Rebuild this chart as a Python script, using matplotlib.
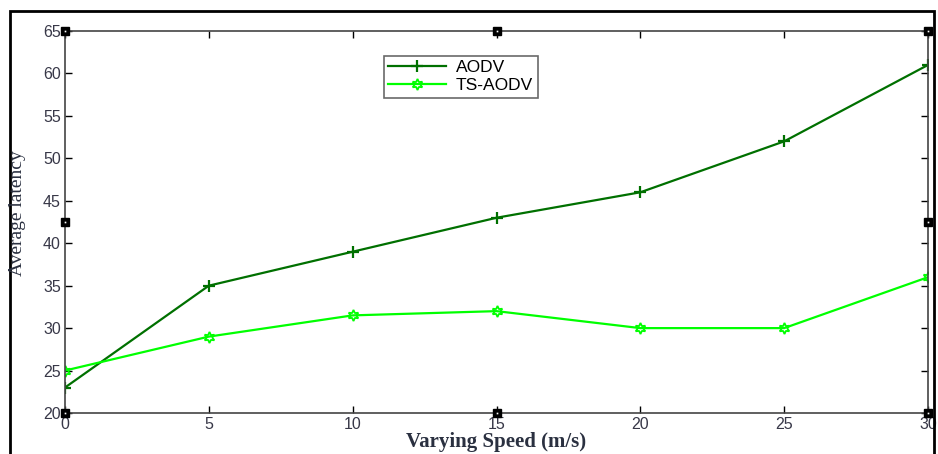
import matplotlib
matplotlib.use("Agg")
import matplotlib.pyplot as plt
from matplotlib.patches import Rectangle

speed = [0, 5, 10, 15, 20, 25, 30]
aodv = [23, 35, 39, 43, 46, 52, 61]
ts_aodv = [25, 29, 31.5, 32, 30, 30, 36]
xticks = [0, 5, 10, 15, 20, 25, 30]
yticks = [20, 25, 30, 35, 40, 45, 50, 55, 60, 65]

fig = plt.figure(figsize=(9.38, 4.54), dpi=100)
ax = fig.add_axes([65/938, 1-413/454, (928-65)/938, (413-31)/454])

ax.plot(speed, aodv, color='#007000', lw=1.6, marker='+', ms=8, mew=1.6, label='AODV')
ax.plot(speed, ts_aodv, color='#00ff00', lw=1.6, marker=(6, 1, 0), ms=8, mew=1.3,
        mfc='none', label='TS-AODV')

ax.set_xlim(0, 30)
ax.set_ylim(20, 65)
ax.set_xticks(xticks)
ax.set_yticks(yticks)
ax.tick_params(direction='in', top=True, right=True, length=5, width=1,
               labelsize=11.5, labelcolor='#383848', pad=3)
for lab in ax.get_xticklabels() + ax.get_yticklabels():
    lab.set_family('Liberation Sans')
for s in ax.spines.values():
    s.set_color('#444444')
    s.set_linewidth(1.2)

ax.set_xlabel('Varying Speed (m/s)', family='Liberation Serif', fontweight='bold',
              fontsize=15, color='#2a3040', labelpad=0)
fig.text(18/938, 1-213/454, 'Average latency', rotation=90, ha='center', va='center',
         family='Liberation Serif', fontsize=14, color='#2a3040')

leg = ax.legend(loc='upper left', bbox_to_anchor=((384-65)/863, 1-(56-31)/382),
                prop={'family': 'Liberation Sans', 'size': 12.5}, frameon=True,
                fancybox=False, edgecolor='#444444', borderpad=0.25, handlelength=3.3,
                labelspacing=0.15, borderaxespad=0, handletextpad=0.6)
leg.get_frame().set_linewidth(1.2)

# editor selection handles
for hx, hy in [(0, 1), (0.5, 1), (1, 1), (0, 0.5), (1, 0.5), (0, 0), (0.5, 0), (1, 0)]:
    ax.plot(hx, hy, marker='s', ms=6, color='black', transform=ax.transAxes,
            clip_on=False, zorder=10)
    ax.plot(hx, hy, marker='s', ms=1.2, color='white', mew=0, transform=ax.transAxes,
            clip_on=False, zorder=11)

# outer frame
fig.patches.append(Rectangle((10/938, -0.05), (934-10)/938, 1.05-11/454,
                             transform=fig.transFigure, fill=False, lw=2, ec='black'))

fig.savefig('out.png', dpi=100)
